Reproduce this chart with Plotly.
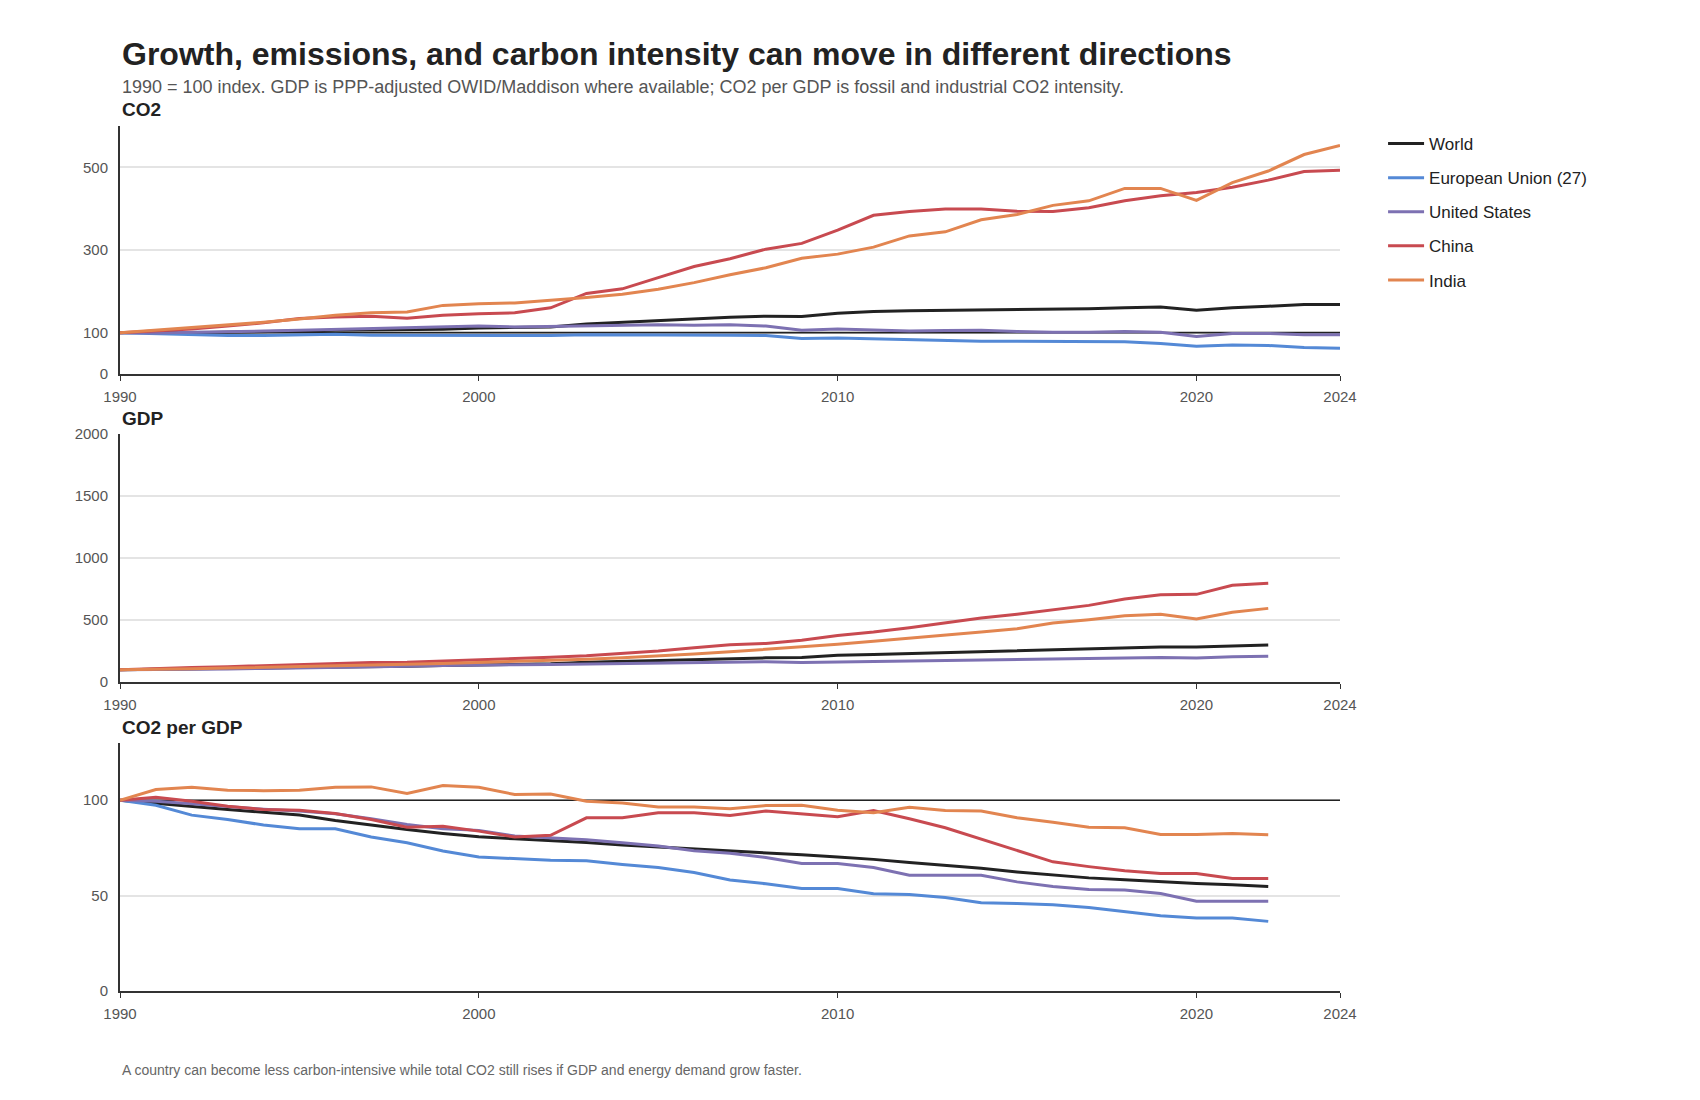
import plotly.graph_objects as go

# ---------------- data ----------------
years = list(range(1990, 2025))
gdp_years = list(range(1990, 2023))
series_names = ["World", "European Union (27)", "United States", "China", "India"]
series_colors = ["#222222", "#5489d6", "#7d71b2", "#c84a50", "#e28550"]
BASE_INDEX = 100  # 1990 = 100 reference line

# CO2 emissions, 1990 = 100
world_co2 = [100, 101, 100, 101, 102, 104, 106, 107, 107, 108, 111, 112, 114, 121, 125, 130, 134, 137, 140, 139,
             147, 151, 153, 154, 155, 155, 156, 158, 160, 162, 154, 160, 164, 168, 168]
eu_co2 = [100, 98, 95, 93, 93, 94, 96, 94, 94, 93, 93, 94, 93, 95, 95, 95, 95, 94, 93, 86,
          87, 85, 84, 82, 79, 79, 79, 79, 78, 74, 67, 70, 69, 64, 62]
us_co2 = [100, 99, 101, 102, 104, 106, 108, 110, 111, 113, 116, 114, 115, 116, 118, 119, 118, 119, 116, 106,
          109, 107, 104, 105, 106, 103, 101, 101, 103, 101, 91, 98, 98, 95, 95]
china_co2 = [100, 104, 109, 116, 124, 134, 138, 140, 135, 142, 146, 148, 160, 195, 206, 233, 260, 279, 302, 316,
             348, 384, 393, 399, 399, 394, 393, 402, 419, 431, 439, 452, 469, 490, 493]
india_co2 = [100, 106, 112, 118, 125, 133, 142, 148, 150, 166, 170, 172, 178, 185, 193, 205, 221, 240, 257, 280,
             290, 307, 334, 344, 373, 386, 408, 419, 449, 449, 420, 463, 491, 531, 553]

# GDP (PPP), 1990 = 100  (no EU series shown in the reference)
world_gdp = [100, 103, 105, 108, 112, 116, 121, 125, 128, 133, 139, 142, 147, 160, 168, 175, 183, 190, 195, 198,
             215, 222, 230, 237, 244, 251, 260, 270, 279, 282, 282, 290, 298]
eu_gdp = [None] * 33
us_gdp = [100, 100, 103, 106, 110, 113, 117, 122, 127, 133, 138, 139, 142, 146, 151, 156, 160, 163, 163, 158,
          162, 166, 169, 172, 176, 181, 184, 188, 193, 198, 193, 204, 208]
china_gdp = [100, 112, 118, 124, 132, 142, 154, 157, 160, 169, 181, 188, 200, 212, 231, 250, 277, 300, 311, 336,
             376, 403, 438, 476, 516, 546, 583, 618, 669, 704, 707, 780, 796]
india_gdp = [100, 101, 108, 113, 118, 123, 130, 136, 143, 150, 157, 163, 170, 183, 196, 210, 226, 244, 262, 282,
             304, 328, 352, 374, 403, 430, 476, 503, 535, 546, 508, 562, 594]

# CO2 per GDP, 1990 = 100
world_int = [100, 98.3, 96.7, 95.1, 93.7, 92.2, 89.4, 87.0, 84.7, 82.6, 80.9, 79.8, 79.0, 77.9, 76.5, 75.5, 74.6,
             73.7, 72.4, 71.4, 70.3, 69.0, 67.3, 65.9, 64.3, 62.4, 60.9, 59.3, 58.3, 57.2, 56.3, 55.7, 54.8]
eu_int = [100, 97.4, 92.2, 89.9, 87.0, 85.0, 85.0, 80.7, 77.7, 73.4, 70.3, 69.4, 68.5, 68.3, 66.3, 64.7, 62.1,
          58.2, 56.2, 53.7, 53.7, 51.0, 50.6, 49.0, 46.3, 45.9, 45.2, 43.8, 41.6, 39.5, 38.3, 38.3, 36.5]
us_int = [100, 99.5, 98.1, 96.7, 95.3, 94.3, 92.9, 90.3, 87.3, 85.0, 84.2, 81.2, 80.3, 79.3, 77.7, 76.0, 73.5,
          72.2, 70.0, 66.8, 66.8, 64.7, 60.7, 60.7, 60.7, 57.2, 54.8, 53.2, 53.0, 51.1, 47.1, 47.1, 47.0]
china_int = [100, 101.6, 99.5, 96.9, 95.1, 94.8, 93.0, 89.9, 85.9, 86.4, 83.8, 80.7, 81.6, 90.8, 90.8, 93.4, 93.4,
             92.0, 94.3, 92.9, 91.3, 94.6, 90.3, 85.6, 79.5, 73.7, 67.7, 65.2, 63.0, 61.6, 61.6, 59.0, 59.0]
india_int = [100, 105.6, 106.8, 105.2, 105.0, 105.2, 106.8, 107.0, 103.5, 107.7, 106.8, 103.0, 103.3, 99.5, 98.6,
             96.5, 96.5, 95.6, 97.2, 97.4, 94.8, 93.4, 96.3, 94.6, 94.4, 90.8, 88.5, 85.9, 85.6, 82.1, 82.1, 82.6, 81.9]

x_ticks = [1990, 2000, 2010, 2020, 2024]
co2_ticks = [0, 100, 300, 500]
gdp_ticks = [0, 500, 1000, 1500, 2000]
int_ticks = [0, 50, 100]

panel_titles = ["CO2", "GDP", "CO2 per GDP"]
title_text = "Growth, emissions, and carbon intensity can move in different directions"
subtitle_text = ("1990 = 100 index. GDP is PPP-adjusted OWID/Maddison where available; "
                 "CO2 per GDP is fossil and industrial CO2 intensity.")
note_text = ("A country can become less carbon-intensive while total CO2 still rises "
             "if GDP and energy demand grow faster.")

# ---------------- figure ----------------
FONT = "Liberation Sans, Arial, Helvetica, sans-serif"
fig = go.Figure()

panels = [
    (years, [world_co2, eu_co2, us_co2, china_co2, india_co2], "x", "y", True),
    (gdp_years, [world_gdp, eu_gdp, us_gdp, china_gdp, india_gdp], "x2", "y2", False),
    (gdp_years, [world_int, eu_int, us_int, china_int, india_int], "x3", "y3", True),
]
for p, (xs, ys_list, xa, ya, show_base) in enumerate(panels):
    if show_base:
        # 1990 = 100 reference line across the full x range
        fig.add_trace(go.Scatter(
            x=[x_ticks[0], x_ticks[-1]], y=[BASE_INDEX, BASE_INDEX], mode="lines",
            line=dict(color="#222222", width=1.6), showlegend=False, hoverinfo="skip",
            xaxis=xa, yaxis=ya))
    for i, ys in enumerate(ys_list):
        fig.add_trace(go.Scatter(
            x=xs, y=ys, mode="lines", name=series_names[i],
            legendgroup=series_names[i], showlegend=(p == 0),
            line=dict(color=series_colors[i], width=3),
            xaxis=xa, yaxis=ya, hoverinfo="skip",
        ))

# domains (figure 1700x1100, margin t=126 b=109 => plot height 865)
doms = [[0.7133, 1.0], [0.3572, 0.6439], [0.0, 0.2867]]
yranges = [[0, 600], [0, 2000], [0, 130]]
yticks = [co2_ticks, gdp_ticks, int_ticks]

axis_common = dict(showline=True, linecolor="#333333", linewidth=2,
                   tickfont=dict(family=FONT, size=15, color="#555555"), zeroline=False)
for k in range(3):
    sx = "" if k == 0 else str(k + 1)
    fig.layout["xaxis" + sx] = dict(
        domain=[0, 1], anchor="y" + sx, range=[1990, 2024], tickvals=x_ticks,
        ticks="outside", ticklen=5, tickcolor="#333333", showgrid=False,
        ticklabelstandoff=3, **axis_common)
    fig.layout["yaxis" + sx] = dict(
        domain=doms[k], anchor="x" + sx, range=yranges[k], tickvals=yticks[k],
        showgrid=True, gridcolor="#e4e4e4", gridwidth=1.5, ticks="",
        ticklabelstandoff=7, **axis_common)

annos = [
    dict(text="<b>%s</b>" % title_text, x=0, y=1.0832, font=dict(size=32, color="#222222")),
    dict(text=subtitle_text, x=0, y=1.0451, font=dict(size=18, color="#555555")),
    dict(text="<b>%s</b>" % panel_titles[0], x=0, y=1.0185, font=dict(size=19, color="#222222")),
    dict(text="<b>%s</b>" % panel_titles[1], x=0, y=0.6624, font=dict(size=19, color="#222222")),
    dict(text="<b>%s</b>" % panel_titles[2], x=0, y=0.3052, font=dict(size=19, color="#222222")),
    dict(text=note_text, x=0, y=-0.0913, font=dict(size=14, color="#666666")),
]
for a in annos:
    a["font"]["family"] = FONT
    fig.add_annotation(xref="paper", yref="paper", xanchor="left", yanchor="middle",
                       showarrow=False, **a)

fig.update_layout(
    width=1700, height=1100,
    margin=dict(l=120, r=360, t=126, b=109),
    paper_bgcolor="white", plot_bgcolor="white",
    font=dict(family=FONT, color="#333333"),
    legend=dict(x=1.0353, y=1.0, xanchor="left", yanchor="top",
                font=dict(family=FONT, size=17, color="#222222"),
                traceorder="grouped", tracegroupgap=9, itemwidth=36,
                bgcolor="rgba(0,0,0,0)"),
    showlegend=True,
)

fig.write_html("out.html")
